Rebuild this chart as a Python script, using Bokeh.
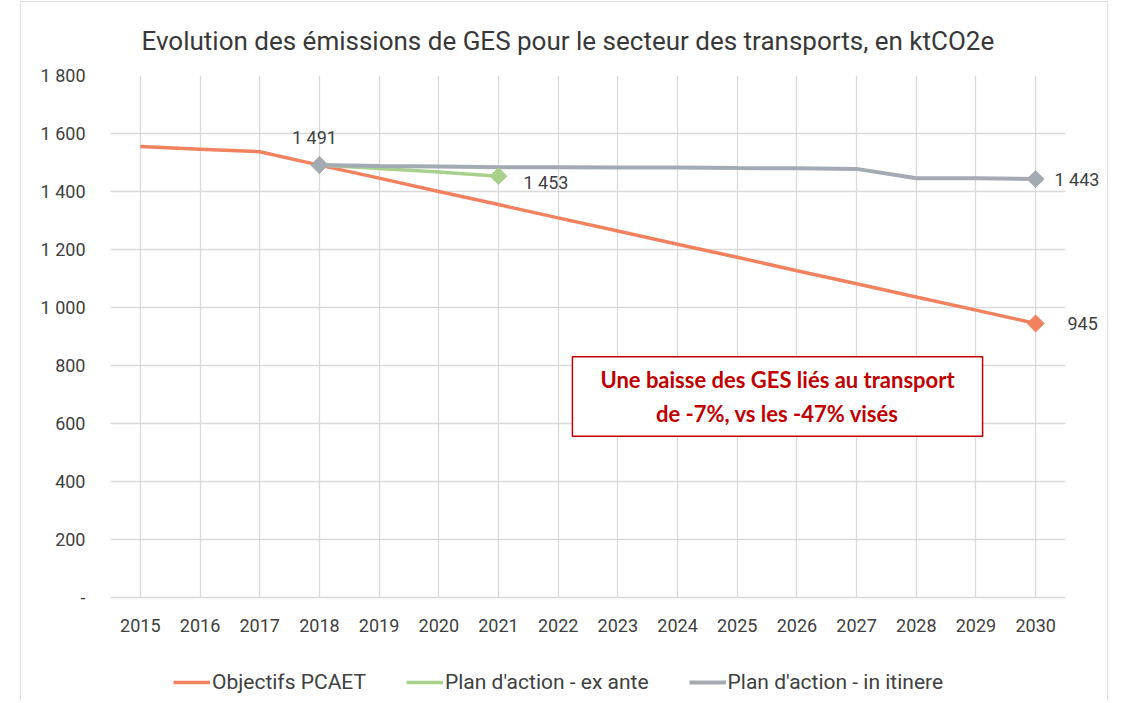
from bokeh.plotting import figure
from bokeh.models import (FactorRange, Range1d, FixedTicker, Legend, LegendItem,
                          LabelSet, Label, ColumnDataSource, LinearAxis)
from bokeh.core.properties import value
from bokeh.embed import file_html
from bokeh.resources import INLINE
import numpy as np

# ---- data ----
years = [str(y) for y in range(2015, 2031)]
objectifs = [1555, 1546, 1537, 1491, 1446, 1400, 1355, 1309, 1264, 1218, 1173, 1127, 1082, 1036, 991, 945]
ex_ante_years = ["2018", "2019", "2020", "2021"]
ex_ante = [1491, 1479, 1467, 1453]
itinere_years = [str(y) for y in range(2018, 2031)]
itinere = [1491, 1488, 1486, 1484, 1484, 1483, 1483, 1481, 1480, 1478, 1446, 1446, 1443]
y_ticks = [0, 200, 400, 600, 800, 1000, 1200, 1400, 1600, 1800]
y_tick_labels = ["-", "200", "400", "600", "800", "1 000", "1 200", "1 400", "1 600", "1 800"]
series_names = ["Objectifs PCAET", "Plan d'action - ex ante", "Plan d'action - in itinere"]
title_text = "Evolution des émissions de GES pour le secteur des transports, en ktCO2e"
note_text = "Une baisse des GES liés au transport\nde -7%, vs les -47% visés"

ORANGE = "#F2825F"
GREEN = "#A9D18E"
GRAY = "#A3AAB2"
TXT = "#404040"
FONT = "Roboto"
FS = "18px"

# layout geometry (pixels)
PLOT_H = 522          # height of the 0..1800 plotting area
EXTRA_H = 104         # room below the zero line for year labels and legend
Y_MAX = y_ticks[-1]
Y_MIN = -Y_MAX * EXTRA_H / PLOT_H

def fmt(v):
    return f"{v:,}".replace(",", " ")

p = figure(x_range=FactorRange(*years), y_range=Range1d(Y_MIN, Y_MAX),
           frame_width=955, frame_height=PLOT_H + EXTRA_H,
           min_border_left=89, min_border_right=42, min_border_top=73, min_border_bottom=0,
           output_backend="svg", toolbar_location=None)
p.styles = {"border": "1px solid #dcdcdc", "border-bottom": "none",
            "margin-left": "20px", "margin-top": "1px"}
p.outline_line_color = None
p.background_fill_color = "white"
p.border_fill_color = "white"

p.title.text = title_text
p.title.align = "left"
p.title.offset = 31
p.title.text_font = FONT
p.title.text_font_size = "26px"
p.title.text_font_style = "normal"
p.title.text_color = "#383838"
p.title.standoff = 40

# grids
p.xgrid.grid_line_color = "#d9d9d9"
p.xgrid.grid_line_width = 1.3
p.xgrid.cross_bounds = (0, Y_MAX)
p.ygrid.grid_line_color = "#d9d9d9"
p.ygrid.grid_line_width = 1.3
p.ygrid.ticker = FixedTicker(ticks=y_ticks)

def style_axis(ax):
    ax.axis_line_color = None
    ax.major_tick_line_color = None
    ax.minor_tick_line_color = None
    ax.major_tick_in = 0
    ax.major_tick_out = 0
    ax.minor_tick_in = 0
    ax.minor_tick_out = 0
    ax.major_label_text_font = FONT
    ax.major_label_text_font_size = FS
    ax.major_label_text_color = TXT

style_axis(p.xaxis[0])
style_axis(p.yaxis[0])
p.yaxis[0].ticker = FixedTicker(ticks=y_ticks)
p.yaxis[0].major_label_overrides = {t: l for t, l in zip(y_ticks, y_tick_labels)}
p.yaxis[0].major_label_standoff = 25
p.xaxis[0].fixed_location = 0
p.xaxis[0].major_label_standoff = 21

# lines
r_obj = p.line(years, objectifs, line_color=ORANGE, line_width=3.5)
r_ante = p.line(ex_ante_years, ex_ante, line_color=GREEN, line_width=3.5)
r_it = p.line(itinere_years, itinere, line_color=GRAY, line_width=4)

# markers (diamonds)
p.scatter([ex_ante_years[0], ex_ante_years[-1]], [ex_ante[0], ex_ante[-1]], marker="square",
          angle=np.pi / 4, size=12, fill_color=GREEN, line_color=GREEN)
p.scatter([itinere_years[0], itinere_years[-1]], [itinere[0], itinere[-1]], marker="square",
          angle=np.pi / 4, size=12, fill_color=GRAY, line_color=GRAY)
p.scatter([years[-1]], [objectifs[-1]], marker="square",
          angle=np.pi / 4, size=12, fill_color=ORANGE, line_color=ORANGE)

# data labels inside the frame
src_c = ColumnDataSource(dict(x=[itinere_years[0]], y=[itinere[0]], t=[fmt(itinere[0])]))
p.add_layout(LabelSet(x="x", y="y", text="t", source=src_c, x_offset=-5, y_offset=28,
                      text_align="center", text_baseline="middle", text_font=value(FONT),
                      text_font_size=value(FS), text_color=TXT))
src_r = ColumnDataSource(dict(x=[ex_ante_years[-1]], y=[ex_ante[-1]], t=[fmt(ex_ante[-1])]))
p.add_layout(LabelSet(x="x", y="y", text="t", source=src_r, x_offset=25, y_offset=-6,
                      text_align="left", text_baseline="middle", text_font=value(FONT),
                      text_font_size=value(FS), text_color=TXT))

# data labels right of the frame (2030 values) as right-side axes
ax_obj = LinearAxis(ticker=FixedTicker(ticks=[objectifs[-1]]),
                    major_label_overrides={objectifs[-1]: fmt(objectifs[-1])})
style_axis(ax_obj)
ax_obj.major_label_standoff = 2
p.add_layout(ax_obj, "right")
ax_it = LinearAxis(ticker=FixedTicker(ticks=[itinere[-1]]),
                   major_label_overrides={itinere[-1]: fmt(itinere[-1])})
style_axis(ax_it)
ax_it.major_label_standoff = -46
p.add_layout(ax_it, "right")

# annotation box
p.add_layout(Label(x=667, y=201 + EXTRA_H, x_units="screen", y_units="screen", text=note_text,
                   text_align="center", text_baseline="middle", text_font="Lato",
                   text_font_style="bold", text_font_size="22px", text_color="#C00000",
                   text_line_height=1.27,
                   border_line_color="#C00000", border_line_width=1.5,
                   background_fill_color="white", padding=(28, 28, 9, 9)))

# legend (inside the extended frame, below the year labels)
legend = Legend(items=[LegendItem(label=series_names[0], renderers=[r_obj]),
                       LegendItem(label=series_names[1], renderers=[r_ante]),
                       LegendItem(label=series_names[2], renderers=[r_it])],
                orientation="horizontal", location=(63, 7),
                border_line_color=None, background_fill_alpha=0, padding=0, margin=0,
                spacing=40, glyph_width=37, glyph_height=20, label_standoff=2,
                label_text_font=FONT, label_text_font_size="21px", label_text_color=TXT)
p.add_layout(legend, "center")

open("out.html", "w").write(file_html(p, INLINE))
